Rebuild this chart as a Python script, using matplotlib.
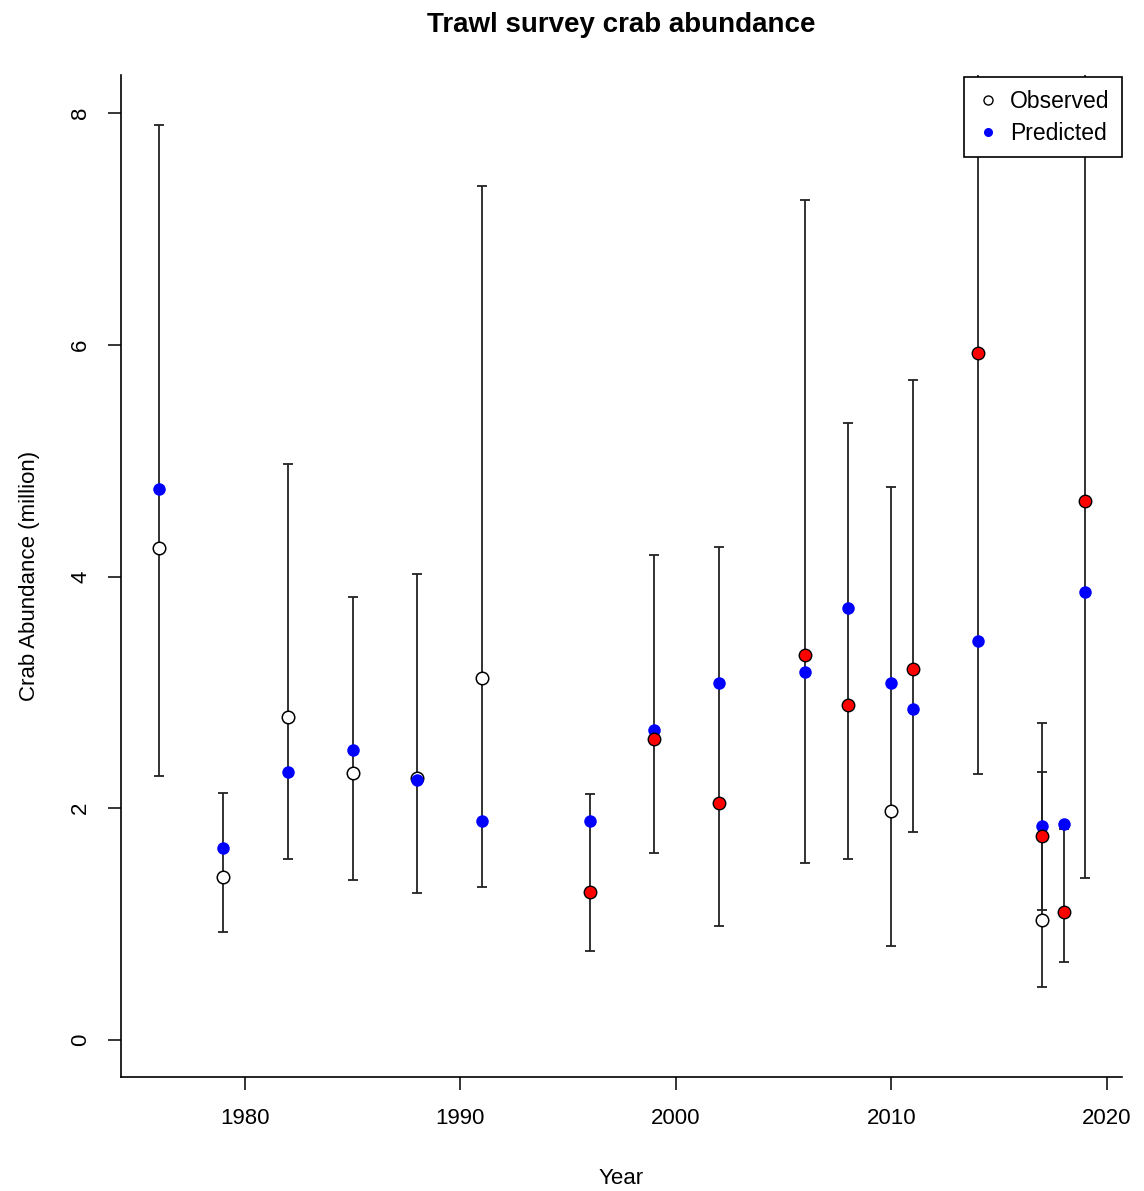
import matplotlib
matplotlib.use("Agg")
import matplotlib.pyplot as plt
from matplotlib.lines import Line2D

plt.rcParams['font.family'] = ['Liberation Sans', 'DejaVu Sans']

# Survey estimates shown as open circles (with confidence intervals)
obs_years = [1976, 1979, 1982, 1985, 1988, 1991, 2010, 2017]
obs_values = [4.246, 1.41, 2.785, 2.304, 2.258, 3.124, 1.974, 1.036]
obs_lower = [2.28, 0.935, 1.559, 1.378, 1.266, 1.323, 0.811, 0.46]
obs_upper = [7.90, 2.13, 4.968, 3.823, 4.019, 7.37, 4.77, 2.316]

# Survey estimates shown as red filled circles (with confidence intervals)
red_years = [1996, 1999, 2002, 2006, 2008, 2011, 2014, 2017, 2018, 2019]
red_values = [1.275, 2.598, 2.048, 3.327, 2.888, 3.205, 5.93, 1.76, 1.105, 4.65]
red_lower = [0.768, 1.614, 0.984, 1.525, 1.559, 1.795, 2.30, 1.122, 0.67, 1.40]
red_upper = [2.12, 4.19, 4.255, 7.25, 5.325, 5.70, 15.3, 2.74, 1.82, 15.4]

# Model predictions
pred_years = [1976, 1979, 1982, 1985, 1988, 1991, 1996, 1999, 2002, 2006,
              2008, 2010, 2011, 2014, 2017, 2018, 2019]
pred_values = [4.755, 1.66, 2.313, 2.50, 2.241, 1.89, 1.89, 2.675, 3.078, 3.18,
               3.726, 3.084, 2.86, 3.44, 1.847, 1.861, 3.866]

x_ticks = [1980, 1990, 2000, 2010, 2020]
y_ticks = [0, 2, 4, 6, 8]

W, H = 1144, 1191
fig = plt.figure(figsize=(W / 100, H / 100), dpi=100)
ax = fig.add_axes([121 / W, 1 - 1077 / H, (1122 - 121) / W, (1077 - 75) / H])

bar_kw = dict(fmt='none', ecolor='#222222', elinewidth=1.3, capsize=3.6,
              capthick=1.3, zorder=2)
ax.errorbar(obs_years, obs_values,
            yerr=[[v - lo for v, lo in zip(obs_values, obs_lower)],
                  [hi - v for v, hi in zip(obs_values, obs_upper)]], **bar_kw)
ax.errorbar(red_years, red_values,
            yerr=[[v - lo for v, lo in zip(red_values, red_lower)],
                  [hi - v for v, hi in zip(red_values, red_upper)]], **bar_kw)

ms = 9
ax.plot(obs_years, obs_values, 'o', ms=ms, mfc='white', mec='black',
        mew=1.1, zorder=3, linestyle='none')
ax.plot(pred_years, pred_values, 'o', ms=ms, mfc='#0000ff', mec='#0000ff',
        mew=0, zorder=4, linestyle='none')
ax.plot(red_years, red_values, 'o', ms=ms, mfc='#ff0000', mec='black',
        mew=1.0, zorder=5, linestyle='none')

ax.set_xlim(1974.25, 2020.7)
ax.set_ylim(-0.32, 8.33)

for s in ['top', 'right']:
    ax.spines[s].set_visible(False)
for s in ['left', 'bottom']:
    ax.spines[s].set_linewidth(1.2)
    ax.spines[s].set_color('black')

ax.set_xticks(x_ticks)
ax.set_xticklabels([str(t) for t in x_ticks])
ax.set_yticks(y_ticks)
ax.set_yticklabels([str(t) for t in y_ticks], rotation=90, va='center')
ax.tick_params(axis='both', length=9.4, width=1.1, labelsize=16, colors='black')
ax.tick_params(axis='x', pad=13)
ax.tick_params(axis='y', pad=12)

ax.set_xlabel('Year', fontsize=16, labelpad=28)
ax.set_ylabel('Crab Abundance (million)', fontsize=16, labelpad=22)
ax.set_title('Trawl survey crab abundance', fontsize=20, fontweight='bold', pad=31)

handles = [
    Line2D([], [], marker='o', linestyle='none', ms=6.5, mfc='white', mec='black', mew=1.0),
    Line2D([], [], marker='o', linestyle='none', ms=6.5, mfc='#0000ff', mec='#0000ff', mew=0),
]
leg = ax.legend(handles, ['Observed', 'Predicted'], loc='upper right',
                bbox_to_anchor=(1.0, 0.998), borderaxespad=0, fontsize=16.5,
                frameon=True, fancybox=False, handlelength=1.0,
                handletextpad=0.45, borderpad=0.55, labelspacing=0.4,
                framealpha=1)
leg.get_frame().set_edgecolor('black')
leg.get_frame().set_linewidth(1.2)
leg.set_zorder(10)

fig.savefig('out.png', dpi=100, facecolor='white')
